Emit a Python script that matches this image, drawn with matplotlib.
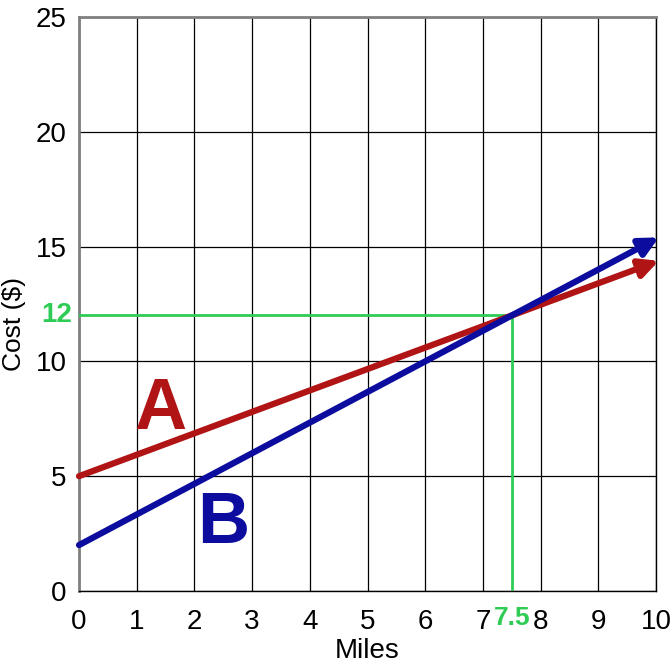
import numpy as np
import matplotlib.pyplot as plt

plt.rcParams['font.family'] = ['Liberation Sans', 'DejaVu Sans']

# data
miles = [0, 10.05]
cost_a = [5, 14.38]   # A: 5 + 0.933 per mile
cost_b = [2, 15.40]   # B: 2 + 1.333 per mile
meet_x, meet_y = 7.5, 12
x_ticks = list(range(0, 11))
y_ticks = [0, 5, 10, 15, 20, 25]

red = '#b01414'
blue = '#0c0c9e'
green = '#2ecc55'

fig = plt.figure(figsize=(6.72, 6.68), dpi=100)
ax = fig.add_axes([0.1176, 0.1153, 0.8586, 0.8593])

ax.set_xlim(0, 10)
ax.set_ylim(0, 25)
ax.set_xticks(x_ticks)
ax.set_yticks(y_ticks)
ax.grid(True, color='black', lw=0.9)
ax.set_axisbelow(True)
ax.tick_params(length=0, labelsize=20)
ax.tick_params(axis='x', pad=13)
ax.tick_params(axis='y', pad=9)

for side in ['left', 'top']:
    ax.spines[side].set_color('#808080')
    ax.spines[side].set_linewidth(2)
for side in ['right', 'bottom']:
    ax.spines[side].set_color('black')
    ax.spines[side].set_linewidth(1)

# green guide lines to the meeting point
ax.plot([0, meet_x], [meet_y, meet_y], color=green, lw=2, zorder=3)
ax.plot([meet_x, meet_x], [0, meet_y], color=green, lw=2, zorder=3)

for ys, c in [(cost_a, red), (cost_b, blue)]:
    ax.annotate('', xy=(miles[1], ys[1]), xytext=(miles[0], ys[0]),
                arrowprops=dict(arrowstyle='-|>', color=c, lw=4.5,
                                mutation_scale=28, shrinkA=0, shrinkB=0),
                zorder=4, annotation_clip=False)

ax.text(1.4, 7.9, 'A', color=red, fontsize=52, fontweight='bold',
        ha='center', va='center')
ax.text(2.5, 2.9, 'B', color=blue, fontsize=52, fontweight='bold',
        ha='center', va='center')

ax.text(-0.38, meet_y, '12', color=green, fontsize=20, fontweight='bold',
        ha='center', va='center')
ax.text(meet_x, -1.18, '7.5', color=green, fontsize=19, fontweight='bold',
        ha='center', va='center')

ax.set_xlabel('Miles', fontsize=20, va='center')
ax.xaxis.set_label_coords(0.5, -0.104)
ax.set_ylabel('Cost ($)', fontsize=19, va='center')
ax.yaxis.set_label_coords(-0.113, 0.465)

fig.savefig('out.png', dpi=100)
